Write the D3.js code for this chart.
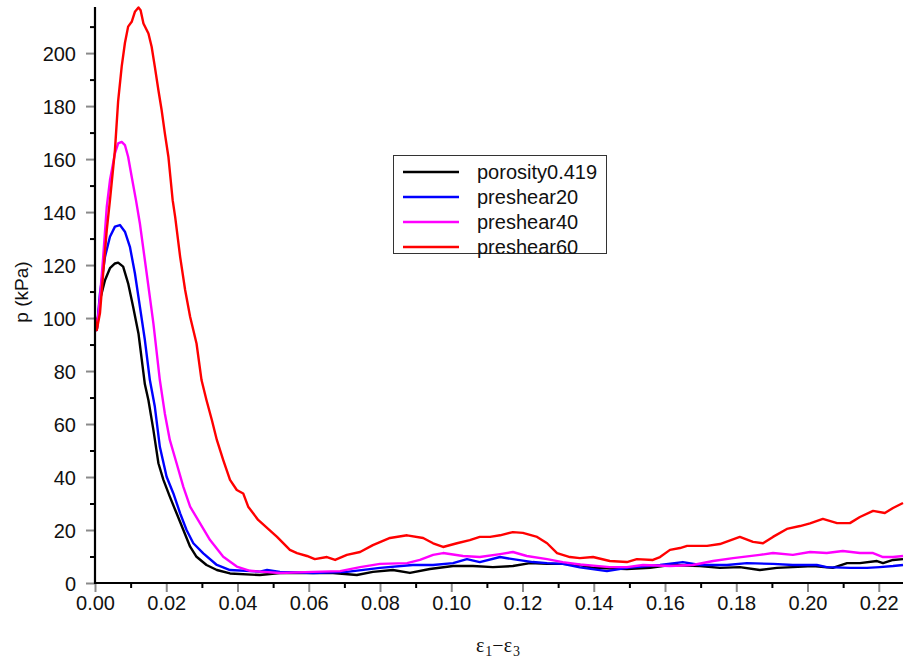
<!DOCTYPE html>
<html>
<head>
<meta charset="utf-8">
<script src="https://cdn.jsdelivr.net/npm/d3@7/dist/d3.min.js"></script>
<style>
  html, body { margin: 0; padding: 0; background: #fff; }
  svg { display: block; }
  .tick-label { font-family: "Liberation Sans", Arial, sans-serif; font-size: 20px; fill: #111; }
</style>
</head>
<body>
<svg id="chart" width="906" height="666"></svg>
<script>
// Mean effective stress p (kPa) versus deviatoric strain ε1−ε3
const seriesNames = ["porosity0.419", "preshear20", "preshear40", "preshear60"];
const seriesColors = ["#000000", "#0000ff", "#ff00ff", "#ff0000"];

const strainBase = [0, 0.0005, 0.0014, 0.0028, 0.0042, 0.0056, 0.0065, 0.0079, 0.0093, 0.0107,
  0.0122, 0.0140, 0.0150, 0.0164, 0.0178, 0.0192, 0.0210, 0.0229, 0.0248, 0.0267, 0.0285,
  0.0313, 0.0342, 0.0379, 0.0463, 0.0519, 0.0612, 0.0668, 0.0735, 0.0780, 0.0836, 0.0884,
  0.0940, 0.1005, 0.1061, 0.1117, 0.1173, 0.1221, 0.1269, 0.1313, 0.1361, 0.1398, 0.1493,
  0.1558, 0.1614, 0.1698, 0.1754, 0.1810, 0.1866, 0.1914, 0.1959, 0.2015, 0.2071, 0.2111,
  0.2147, 0.2195, 0.2212, 0.2240, 0.2268];
const pressureBase = [100, 95.5, 106.8, 114.3, 118.8, 120.6, 120.9, 119.4, 113.1, 104.3,
  94.2, 75, 69, 57.7, 45.2, 38.9, 32.6, 26.3, 20, 13.7, 9.9,
  6.8, 4.9, 3.6, 3.0, 3.8, 3.8, 3.8, 3.0, 4.2, 4.9, 3.8,
  5.3, 6.4, 6.4, 6.0, 6.4, 7.5, 7.2, 7.2, 6.8, 5.7, 5.3,
  5.7, 6.8, 6.4, 5.7, 6.0, 4.9, 5.7, 6.0, 6.4, 5.7, 7.5,
  7.5, 8.3, 7.5, 8.7, 9.0];

const strainPre20 = [0, 0.0005, 0.0014, 0.0028, 0.0042, 0.0056, 0.0070, 0.0084, 0.0098, 0.0112,
  0.0126, 0.0140, 0.0154, 0.0168, 0.0182, 0.0201, 0.0220, 0.0239, 0.0257, 0.0276, 0.0304,
  0.0342, 0.0379, 0.0463, 0.0483, 0.0519, 0.0612, 0.0707, 0.0800, 0.0892, 0.0949, 0.1005,
  0.1044, 0.1080, 0.1137, 0.1173, 0.1229, 0.1269, 0.1313, 0.1361, 0.1437, 0.1493, 0.1586,
  0.1650, 0.1698, 0.1774, 0.1830, 0.1903, 0.1959, 0.2026, 0.2054, 0.2119, 0.2167, 0.2203,
  0.2240, 0.2268];
const pressurePre20 = [100, 95.5, 109.3, 123.1, 130.7, 134.5, 135.1, 132.6, 126.9, 116.9,
  104.3, 91.7, 76.6, 66.5, 51.4, 40.1, 33.8, 26.3, 20, 15, 11.2,
  6.8, 4.9, 4.3, 4.9, 4.2, 3.8, 4.2, 5.7, 6.8, 6.8, 7.5,
  9.0, 7.9, 9.8, 9.0, 7.9, 7.5, 7.2, 5.9, 4.5, 5.7, 6.8,
  7.9, 6.8, 6.8, 7.5, 7.2, 6.8, 6.8, 6.0, 5.7, 5.7, 6.0,
  6.4, 6.8];

const strainPre40 = [0, 0.0005, 0.0014, 0.0023, 0.0033, 0.0042, 0.0056, 0.0065, 0.0075, 0.0084,
  0.0093, 0.0103, 0.0115, 0.0126, 0.0145, 0.0164, 0.0182, 0.0196, 0.0210, 0.0229, 0.0248,
  0.0267, 0.0295, 0.0323, 0.0360, 0.0398, 0.0435, 0.0463, 0.0519, 0.0612, 0.0688, 0.0744,
  0.0800, 0.0876, 0.0912, 0.0949, 0.0977, 0.1033, 0.1080, 0.1137, 0.1173, 0.1212, 0.1269,
  0.1313, 0.1361, 0.1445, 0.1493, 0.1538, 0.1614, 0.1678, 0.1735, 0.1791, 0.1866, 0.1903,
  0.1959, 0.2007, 0.2054, 0.2099, 0.2147, 0.2184, 0.2212, 0.2240, 0.2268];
const pressurePre40 = [100, 95.5, 108, 123.1, 142, 152, 162.2, 165.9, 166.5, 165.3,
  160.9, 153.3, 144.5, 135.7, 116.9, 97.9, 76.6, 64, 54, 45.2, 36.3,
  28.8, 22.5, 16.2, 9.9, 6.2, 4.6, 4.3, 3.8, 4.2, 4.5, 6.0,
  7.2, 7.5, 8.7, 10.6, 11.3, 10.2, 9.8, 10.9, 11.7, 10.2, 9.0,
  7.9, 7.0, 6.0, 6.0, 6.8, 6.4, 6.8, 8.3, 9.4, 10.6, 11.3,
  10.6, 11.7, 11.3, 12.1, 11.3, 11.3, 9.8, 9.8, 10.2];

const strainPre60 = [0, 0.0005, 0.0014, 0.0023, 0.0033, 0.0042, 0.0056, 0.0065, 0.0075, 0.0084,
  0.0093, 0.0103, 0.0112, 0.0122, 0.0128, 0.0136, 0.0150, 0.0159, 0.0168, 0.0178, 0.0187,
  0.0196, 0.0206, 0.0218, 0.0225, 0.0239, 0.0253, 0.0267, 0.0285, 0.0299, 0.0313, 0.0328,
  0.0342, 0.0360, 0.0379, 0.0398, 0.0416, 0.0430, 0.0458, 0.0511, 0.0547, 0.0567, 0.0595,
  0.0617, 0.0651, 0.0674, 0.0707, 0.0744, 0.0780, 0.0828, 0.0876, 0.0921, 0.0949, 0.0977,
  0.1016, 0.1052, 0.1080, 0.1109, 0.1137, 0.1173, 0.1201, 0.1241, 0.1269, 0.1297, 0.1333,
  0.1361, 0.1398, 0.1445, 0.1493, 0.1521, 0.1566, 0.1586, 0.1614, 0.1642, 0.1662, 0.1718,
  0.1754, 0.1810, 0.1847, 0.1875, 0.1903, 0.1942, 0.1979, 0.2007, 0.2043, 0.2083, 0.2119,
  0.2147, 0.2184, 0.2217, 0.2240, 0.2268];
const pressurePre60 = [100.5, 95.5, 101.9, 116.9, 133.2, 144.5, 163.4, 182, 195, 203.8,
  210, 211.8, 215.6, 217.2, 216.2, 211.2, 207.4, 202.4, 194.8, 186, 178.5,
  169.8, 160.9, 144.5, 138.2, 123.1, 110.6, 100.5, 90.4, 76.6, 69, 61.5,
  54, 46.4, 38.9, 35.1, 33.8, 28.8, 23.8, 17.4, 12.5, 11.3, 10.2,
  9.0, 9.8, 8.7, 10.6, 11.7, 14.3, 17, 18, 17, 15, 13.6,
  15, 16.2, 17.4, 17.4, 18, 19.2, 18.9, 17.4, 15, 11.3, 9.8,
  9.4, 9.8, 8.3, 7.9, 9.0, 8.7, 9.8, 12.5, 13.2, 14, 14,
  14.7, 17.4, 15.5, 15, 17.4, 20.4, 21.5, 22.5, 24.2, 22.6, 22.6,
  24.9, 27.2, 26.4, 28.3, 30.2];

const strainSets = [strainBase, strainPre20, strainPre40, strainPre60];
const pressureSets = [pressureBase, pressurePre20, pressurePre40, pressurePre60];

const xMajorTicks = [0, 0.02, 0.04, 0.06, 0.08, 0.10, 0.12, 0.14, 0.16, 0.18, 0.20, 0.22];
const xMinorTicks = [0.01, 0.03, 0.05, 0.07, 0.09, 0.11, 0.13, 0.15, 0.17, 0.19, 0.21];
const yMajorTicks = [0, 20, 40, 60, 80, 100, 120, 140, 160, 180, 200];
const yMinorTicks = [10, 30, 50, 70, 90, 110, 130, 150, 170, 190, 210];

const svg = d3.select("#chart");
const plot = { left: 95, right: 903, top: 7, bottom: 583 };

const x = d3.scaleLinear().domain([0, 0.2268]).range([plot.left, plot.right]);
const y = d3.scaleLinear().domain([0, 217.4]).range([plot.bottom, plot.top]);

// Data curves
const line = d3.line().x(d => x(d[0])).y(d => y(d[1])).curve(d3.curveLinear);
[0, 1, 2, 3].forEach(i => {
  const pts = strainSets[i].map((s, k) => [s, pressureSets[i][k]]);
  svg.append("path")
    .datum(pts)
    .attr("fill", "none")
    .attr("stroke", seriesColors[i])
    .attr("stroke-width", 2.4)
    .attr("stroke-linejoin", "round")
    .attr("d", line);
});

// Axes: major ticks grey, minor ticks black, both pointing outward
const axisG = svg.append("g");
function xAxisWith(ticks, size, color, labels) {
  const g = axisG.append("g").attr("transform", `translate(0,${plot.bottom})`)
    .call(d3.axisBottom(x).tickValues(ticks).tickSize(size).tickSizeOuter(0)
      .tickFormat(labels ? d3.format(".2f") : ""));
  g.select(".domain").remove();
  g.selectAll(".tick line").attr("stroke", color).attr("stroke-width", 2);
  g.selectAll(".tick text").attr("class", "tick-label").attr("y", 27).attr("dy", 0);
  return g;
}
function yAxisWith(ticks, size, color, labels) {
  const g = axisG.append("g").attr("transform", `translate(${plot.left},0)`)
    .call(d3.axisLeft(y).tickValues(ticks).tickSize(size).tickSizeOuter(0)
      .tickFormat(labels ? d3.format("d") : ""));
  g.select(".domain").remove();
  g.selectAll(".tick line").attr("stroke", color).attr("stroke-width", 2);
  g.selectAll(".tick text").attr("class", "tick-label").attr("x", -19).attr("dy", "0.35em");
  return g;
}
xAxisWith(xMinorTicks, 5, "#000", false);
xAxisWith(xMajorTicks, 9, "#8a8a8a", true);
yAxisWith(yMinorTicks, 5, "#000", false);
yAxisWith(yMajorTicks, 9, "#8a8a8a", true);

axisG.append("line")
  .attr("x1", plot.left).attr("x2", plot.right)
  .attr("y1", plot.bottom).attr("y2", plot.bottom)
  .attr("stroke", "#000").attr("stroke-width", 2.2);
axisG.append("line")
  .attr("x1", plot.left).attr("x2", plot.left)
  .attr("y1", plot.top).attr("y2", plot.bottom + 1)
  .attr("stroke", "#000").attr("stroke-width", 2.2);

// Axis titles
svg.append("text")
  .attr("transform", "translate(28,292) rotate(-90)")
  .attr("text-anchor", "middle")
  .attr("font-family", "Liberation Sans, Arial, sans-serif")
  .attr("font-size", 19)
  .attr("fill", "#111")
  .text("p (kPa)");

const xt = svg.append("text")
  .attr("x", 498).attr("y", 652)
  .attr("text-anchor", "middle")
  .attr("font-family", "Liberation Serif, Times New Roman, serif")
  .attr("font-size", 20)
  .attr("fill", "#111");
xt.append("tspan").text("ε");
xt.append("tspan").attr("font-size", 14).attr("dy", 4).attr("dx", 1).text("1");
xt.append("tspan").attr("dy", -4).text("−ε");
xt.append("tspan").attr("font-size", 14).attr("dy", 4).attr("dx", 1).text("3");

// Legend
const legend = svg.append("g");
legend.append("rect")
  .attr("x", 393.5).attr("y", 155.5).attr("width", 213).attr("height", 98)
  .attr("fill", "#fff").attr("stroke", "#333").attr("stroke-width", 1);
seriesNames.forEach((name, i) => {
  const ly = 172 + i * 25;
  legend.append("line")
    .attr("x1", 403).attr("x2", 459).attr("y1", ly).attr("y2", ly)
    .attr("stroke", seriesColors[i]).attr("stroke-width", 2.4);
  legend.append("text")
    .attr("x", 477).attr("y", ly).attr("dy", "0.35em")
    .attr("class", "tick-label")
    .text(name);
});
</script>
</body>
</html>
